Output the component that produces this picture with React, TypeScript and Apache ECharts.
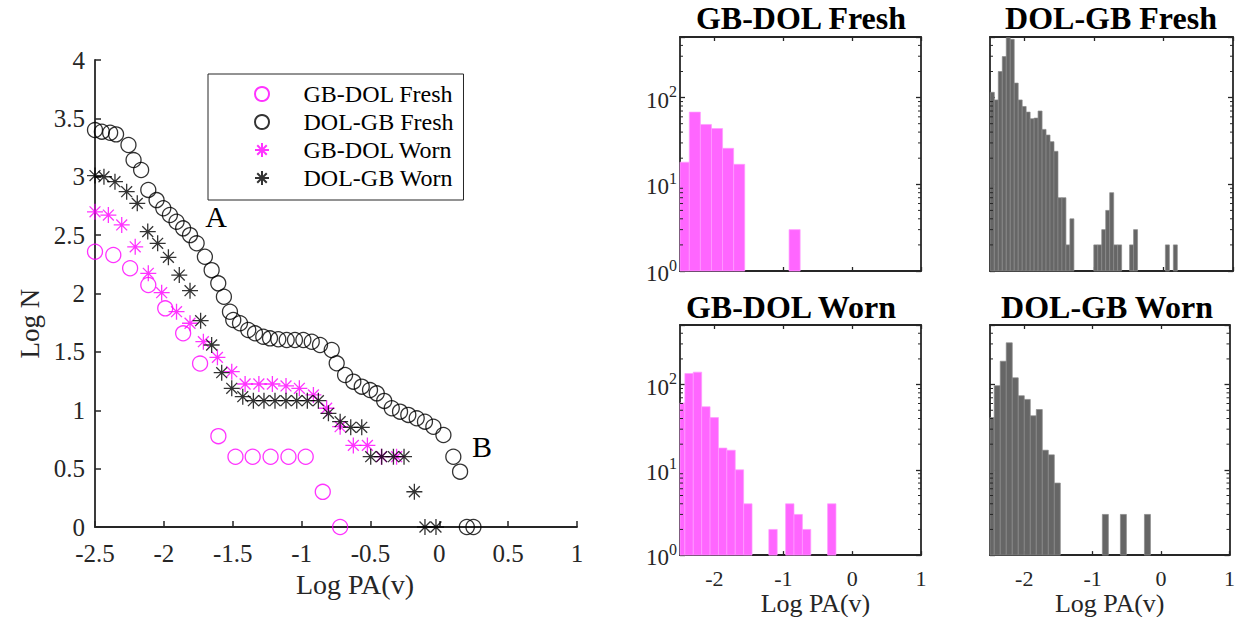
import React, { useEffect, useRef } from "react";
import * as echarts from "echarts";

const FONT = "'Liberation Serif', 'Times New Roman', Times, serif";
const AXIS_COLOR = "#262626";
const MAGENTA = "#ff00ff";
const BLACK = "#000000";

// ---------- Left chart: cumulative counts (Log N vs Log PA(v)) ----------
const gbdolFreshX = [-2.5, -2.367, -2.245, -2.113, -1.99, -1.86, -1.737, -1.604, -1.48, -1.355, -1.225, -1.095, -0.97, -0.846, -0.72];
const gbdolFreshY = [2.358, 2.33, 2.216, 2.073, 1.873, 1.659, 1.4, 0.778, 0.602, 0.602, 0.602, 0.602, 0.602, 0.301, 0];

const dolgbFreshX = [-2.5, -2.45, -2.39, -2.347, -2.257, -2.22, -2.165, -2.113, -2.053, -2.004, -1.956, -1.908, -1.86, -1.81, -1.762, -1.702, -1.653, -1.605, -1.564, -1.52, -1.496, -1.447, -1.387, -1.338, -1.278, -1.229, -1.169, -1.108, -1.048, -0.987, -0.926, -0.866, -0.781, -0.745, -0.684, -0.624, -0.563, -0.503, -0.454, -0.4, -0.345, -0.285, -0.225, -0.164, -0.104, -0.043, 0.03, 0.102, 0.151, 0.2, 0.248];
const dolgbFreshY = [3.4, 3.386, 3.377, 3.363, 3.272, 3.143, 3.058, 2.887, 2.8, 2.73, 2.672, 2.615, 2.558, 2.5, 2.43, 2.315, 2.2, 2.087, 1.972, 1.844, 1.773, 1.745, 1.687, 1.659, 1.63, 1.616, 1.608, 1.602, 1.602, 1.602, 1.587, 1.559, 1.516, 1.402, 1.302, 1.245, 1.202, 1.173, 1.145, 1.08, 1.017, 0.988, 0.96, 0.931, 0.902, 0.859, 0.788, 0.602, 0.474, 0, 0];

const gbdolWornX = [-2.5, -2.403, -2.306, -2.208, -2.113, -2.016, -1.908, -1.81, -1.713, -1.611, -1.507, -1.41, -1.31, -1.212, -1.113, -1.016, -0.914, -0.818, -0.72, -0.624, -0.522, -0.42, -0.31];
const gbdolWornY = [2.7, 2.672, 2.587, 2.4, 2.173, 2.007, 1.844, 1.745, 1.587, 1.453, 1.33, 1.225, 1.225, 1.225, 1.208, 1.188, 1.131, 1.017, 0.859, 0.699, 0.699, 0.602, 0.602];

const dolgbWornX = [-2.5, -2.435, -2.355, -2.27, -2.193, -2.117, -2.045, -1.967, -1.888, -1.81, -1.733, -1.653, -1.58, -1.507, -1.427, -1.35, -1.273, -1.193, -1.113, -1.035, -0.958, -0.878, -0.805, -0.72, -0.643, -0.563, -0.498, -0.418, -0.333, -0.256, -0.181, -0.104, -0.024];
const dolgbWornY = [3.01, 3.0, 2.958, 2.872, 2.772, 2.53, 2.43, 2.31, 2.158, 2.024, 1.767, 1.559, 1.322, 1.188, 1.116, 1.082, 1.082, 1.082, 1.082, 1.082, 1.082, 1.082, 0.974, 0.902, 0.854, 0.854, 0.602, 0.602, 0.602, 0.602, 0.302, 0, 0];

const seriesNames = ["GB-DOL Fresh", "DOL-GB Fresh", "GB-DOL Worn", "DOL-GB Worn"];

// ---------- Histograms (counts per bin of Log PA(v)) ----------
const gbdolFreshBinStart = -2.526;
const gbdolFreshBinWidth = 0.161;
const gbdolFreshCounts = [18, 68, 49, 44, 26, 17, 0, 0, 0, 0, 3];

const dolgbFreshBinStart = -2.495;
const dolgbFreshBinWidth = 0.0573;
const dolgbFreshCounts = [115, 94, 200, 297, 490, 470, 147, 94, 79, 68, 57, 58, 70, 43, 37, 31, 24, 7, 7, 2, 4, 0, 0, 0, 0, 0, 2, 2, 3, 5, 8, 2, 2, 0, 0, 2, 3, 0, 0, 0, 0, 0, 0, 0, 2, 0, 2];

const gbdolWornBinStart = -2.551;
const gbdolWornBinWidth = 0.1219;
const gbdolWornCounts = [61, 135, 140, 55, 41, 18, 17, 10, 4, 0, 0, 2, 0, 4, 3, 2, 0, 0, 4];

const dolgbWornBinStart = -2.526;
const dolgbWornBinWidth = 0.0878;
const dolgbWornCounts = [41, 97, 188, 309, 120, 74, 67, 43, 51, 17, 15, 7, 0, 0, 0, 0, 0, 0, 0, 3, 0, 0, 3, 0, 0, 0, 3];

const histTickLabels = [-2, -1, 0, 1];
const minorTickValues = [2, 3, 4, 5, 6, 7, 8, 9, 20, 30, 40, 50, 60, 70, 80, 90, 200, 300, 400];

const STAR = "path://M0 5L10 5M5 0L5 10M1.6 1.6L8.4 8.4M8.4 1.6L1.6 8.4";

function pairs(xs: number[], ys: number[]) {
  return xs.map((x, i) => [x, ys[i]]);
}

function histData(start: number, width: number, counts: number[]) {
  const out: number[][] = [];
  counts.forEach((c, k) => {
    if (c > 0) out.push([start + k * width, start + (k + 1) * width, c]);
  });
  return out;
}

const panels = [
  { title: "GB-DOL Fresh", start: gbdolFreshBinStart, width: gbdolFreshBinWidth, counts: gbdolFreshCounts, fill: "#ff66ff", edge: "#ff9cff", grid: { left: 680, top: 37, width: 241, height: 234 }, bottomRow: false, leftCol: true, titleX: 801, titleY: 2, namePad: 0 },
  { title: "DOL-GB Fresh", start: dolgbFreshBinStart, width: dolgbFreshBinWidth, counts: dolgbFreshCounts, fill: "#666666", edge: "#8a8a8a", grid: { left: 990, top: 37, width: 243, height: 234 }, bottomRow: false, leftCol: false, titleX: 1111, titleY: 2, namePad: 0 },
  { title: "GB-DOL Worn", start: gbdolWornBinStart, width: gbdolWornBinWidth, counts: gbdolWornCounts, fill: "#ff66ff", edge: "#ff9cff", grid: { left: 680, top: 325, width: 241, height: 231 }, bottomRow: true, leftCol: true, titleX: 791, titleY: 291, namePad: 30 },
  { title: "DOL-GB Worn", start: dolgbWornBinStart, width: dolgbWornBinWidth, counts: dolgbWornCounts, fill: "#666666", edge: "#8a8a8a", grid: { left: 990, top: 325, width: 243, height: 231 }, bottomRow: true, leftCol: false, titleX: 1107, titleY: 291, namePad: 0 },
];

function logLabel(v: number) {
  const e = Math.log10(v);
  if (Math.abs(e - Math.round(e)) > 1e-6) return "";
  return "{b|10}{sup|" + Math.round(e) + "}";
}

function buildOption() {
  const grids: any[] = [{ left: 95, top: 60, width: 482, height: 467 }];
  const xAxes: any[] = [
    {
      type: "value", gridIndex: 0, min: -2.5, max: 1, interval: 0.5,
      axisLine: { show: true, onZero: false, lineStyle: { color: AXIS_COLOR, width: 1.8 } },
      axisTick: { show: true, inside: true, length: 6, lineStyle: { color: AXIS_COLOR, width: 1.5 } },
      axisLabel: { fontFamily: FONT, fontSize: 25, color: AXIS_COLOR, margin: 14, showMinLabel: true, showMaxLabel: true },
      splitLine: { show: false },
      name: "Log PA(v)", nameLocation: "middle", nameGap: 41,
      nameTextStyle: { fontFamily: FONT, fontSize: 28, color: AXIS_COLOR, padding: [0, 0, 0, 38] },
    },
  ];
  const yAxes: any[] = [
    {
      type: "value", gridIndex: 0, min: 0, max: 4, interval: 0.5,
      axisLine: { show: true, onZero: false, lineStyle: { color: AXIS_COLOR, width: 1.8 } },
      axisTick: { show: true, inside: true, length: 6, lineStyle: { color: AXIS_COLOR, width: 1.5 } },
      axisLabel: { fontFamily: FONT, fontSize: 25, color: AXIS_COLOR, margin: 10 },
      splitLine: { show: false },
      name: "Log N", nameLocation: "middle", nameGap: 52,
      nameTextStyle: { fontFamily: FONT, fontSize: 27, color: AXIS_COLOR, padding: [0, 60, 0, 0] },
    },
  ];
  const titles: any[] = [];
  const series: any[] = [
    {
      name: seriesNames[0], type: "scatter", xAxisIndex: 0, yAxisIndex: 0, data: pairs(gbdolFreshX, gbdolFreshY),
      symbol: "circle", symbolSize: 15,
      itemStyle: { color: "rgba(0,0,0,0)", borderColor: MAGENTA, borderWidth: 1.3 },
    },
    {
      name: seriesNames[1], type: "scatter", xAxisIndex: 0, yAxisIndex: 0, data: pairs(dolgbFreshX, dolgbFreshY),
      symbol: "circle", symbolSize: 15,
      itemStyle: { color: "rgba(0,0,0,0)", borderColor: BLACK, borderWidth: 1.3 },
    },
    {
      name: seriesNames[2], type: "scatter", xAxisIndex: 0, yAxisIndex: 0, data: pairs(gbdolWornX, gbdolWornY),
      symbol: STAR, symbolSize: 16,
      itemStyle: { color: MAGENTA, borderColor: MAGENTA, borderWidth: 1.3 },
    },
    {
      name: seriesNames[3], type: "scatter", xAxisIndex: 0, yAxisIndex: 0, data: pairs(dolgbWornX, dolgbWornY),
      symbol: STAR, symbolSize: 16,
      itemStyle: { color: BLACK, borderColor: BLACK, borderWidth: 1.3 },
    },
  ];

  panels.forEach((p, i) => {
    const g = i + 1;
    const xb = 1 + 2 * i;
    const yl = 1 + 2 * i;
    grids.push({ left: p.grid.left, top: p.grid.top, width: p.grid.width, height: p.grid.height });
    const lineStyle = { color: AXIS_COLOR, width: 1.8 };
    const tickStyle = { color: AXIS_COLOR, width: 1.3 };
    xAxes.push({
      type: "value", gridIndex: g, min: -2.5, max: 1, position: "bottom",
      axisLine: { show: true, onZero: false, lineStyle },
      axisTick: { show: true, inside: true, length: 4, customValues: histTickLabels, lineStyle: tickStyle },
      axisLabel: { show: p.bottomRow, customValues: histTickLabels, fontFamily: FONT, fontSize: 22, color: AXIS_COLOR, margin: 12 },
      splitLine: { show: false },
      name: p.bottomRow ? "Log PA(v)" : "", nameLocation: "middle", nameGap: 22,
      nameTextStyle: { fontFamily: FONT, fontSize: 26, color: AXIS_COLOR, padding: [0, 0, 0, p.namePad] },
    });
    xAxes.push({
      type: "value", gridIndex: g, min: -2.5, max: 1, position: "top",
      axisLine: { show: true, onZero: false, lineStyle },
      axisTick: { show: true, inside: true, length: 4, customValues: histTickLabels, lineStyle: tickStyle },
      axisLabel: { show: false },
      splitLine: { show: false },
    });
    yAxes.push({
      type: "log", logBase: 10, gridIndex: g, min: 1, max: 500, position: "left",
      axisLine: { show: true, onZero: false, lineStyle },
      axisTick: { show: true, inside: true, length: 5, lineStyle: tickStyle },
      axisLabel: {
        show: p.leftCol, margin: 3, fontFamily: FONT, color: AXIS_COLOR,
        formatter: logLabel,
        rich: {
          b: { fontFamily: FONT, fontSize: 23, color: AXIS_COLOR, lineHeight: 28, verticalAlign: "bottom" },
          sup: { fontFamily: FONT, fontSize: 16, color: AXIS_COLOR, lineHeight: 16, verticalAlign: "top" },
        },
      },
      splitLine: { show: false },
    });
    yAxes.push({
      type: "log", logBase: 10, gridIndex: g, min: 1, max: 500, position: "right",
      axisLine: { show: true, onZero: false, lineStyle },
      axisTick: { show: true, inside: true, length: 5, lineStyle: tickStyle },
      axisLabel: { show: false },
      splitLine: { show: false },
    });
    titles.push({
      text: p.title, left: p.titleX, top: p.titleY, textAlign: "center", padding: 0,
      textStyle: { fontFamily: FONT, fontSize: 32, fontWeight: "bold", color: "#000" },
    });
    const fill = p.fill;
    const edge = p.edge;
    series.push({
      type: "custom", xAxisIndex: xb, yAxisIndex: yl, silent: true,
      encode: { x: [0, 1], y: 2 },
      data: histData(p.start, p.width, p.counts),
      renderItem: (params: any, api: any) => {
        const lo = api.coord([api.value(0), api.value(2)]);
        const hi = api.coord([api.value(1), 1]);
        const cs = params.coordSys;
        const shape = echarts.graphic.clipRectByRect(
          { x: lo[0], y: lo[1], width: hi[0] - lo[0], height: hi[1] - lo[1] },
          { x: cs.x, y: cs.y, width: cs.width, height: cs.height }
        );
        if (!shape) return null;
        return { type: "rect", shape, style: { fill, stroke: edge, lineWidth: 0.7 } };
      },
    });
    series.push({
      type: "custom", xAxisIndex: xb, yAxisIndex: yl, silent: true, z: 5,
      encode: { x: 0, y: 1 },
      data: minorTickValues.map((v) => [-2.5, v]),
      renderItem: (params: any, api: any) => {
        const cs = params.coordSys;
        const y = api.coord([-2.5, api.value(1)])[1];
        return {
          type: "group",
          children: [
            { type: "line", shape: { x1: cs.x, y1: y, x2: cs.x + 3, y2: y }, style: { stroke: AXIS_COLOR, lineWidth: 1 } },
            { type: "line", shape: { x1: cs.x + cs.width - 3, y1: y, x2: cs.x + cs.width, y2: y }, style: { stroke: AXIS_COLOR, lineWidth: 1 } },
          ],
        };
      },
    });
  });

  return {
    animation: false,
    backgroundColor: "#ffffff",
    textStyle: { fontFamily: FONT },
    title: titles,
    grid: grids,
    xAxis: xAxes,
    yAxis: yAxes,
    legend: {
      orient: "vertical", left: 208, top: 74,
      padding: [8, 10, 10, 46], itemWidth: 25, itemHeight: 14, itemGap: 4,
      backgroundColor: "#ffffff", borderColor: AXIS_COLOR, borderWidth: 1, borderRadius: 0,
      textStyle: { fontFamily: FONT, fontSize: 24, color: "#000", lineHeight: 23, padding: [0, 0, 0, 24] },
      selectedMode: false,
      data: seriesNames,
    },
    graphic: [
      { type: "text", x: 216, y: 216, style: { text: "A", fontFamily: FONT, fontSize: 30, fill: "#000", align: "center", verticalAlign: "middle" } },
      { type: "text", x: 482, y: 446, style: { text: "B", fontFamily: FONT, fontSize: 30, fill: "#000", align: "center", verticalAlign: "middle" } },
    ],
    series,
  };
}

export default function App() {
  const ref = useRef<HTMLDivElement>(null);
  useEffect(() => {
    if (!ref.current) return;
    const chart = echarts.init(ref.current, undefined, { renderer: "svg" });
    chart.setOption(buildOption() as any);
    return () => chart.dispose();
  }, []);
  return (
    <div
      ref={ref}
      style={{ position: "fixed", left: 0, top: 0, width: 1238, height: 617, background: "#fff" }}
    />
  );
}
